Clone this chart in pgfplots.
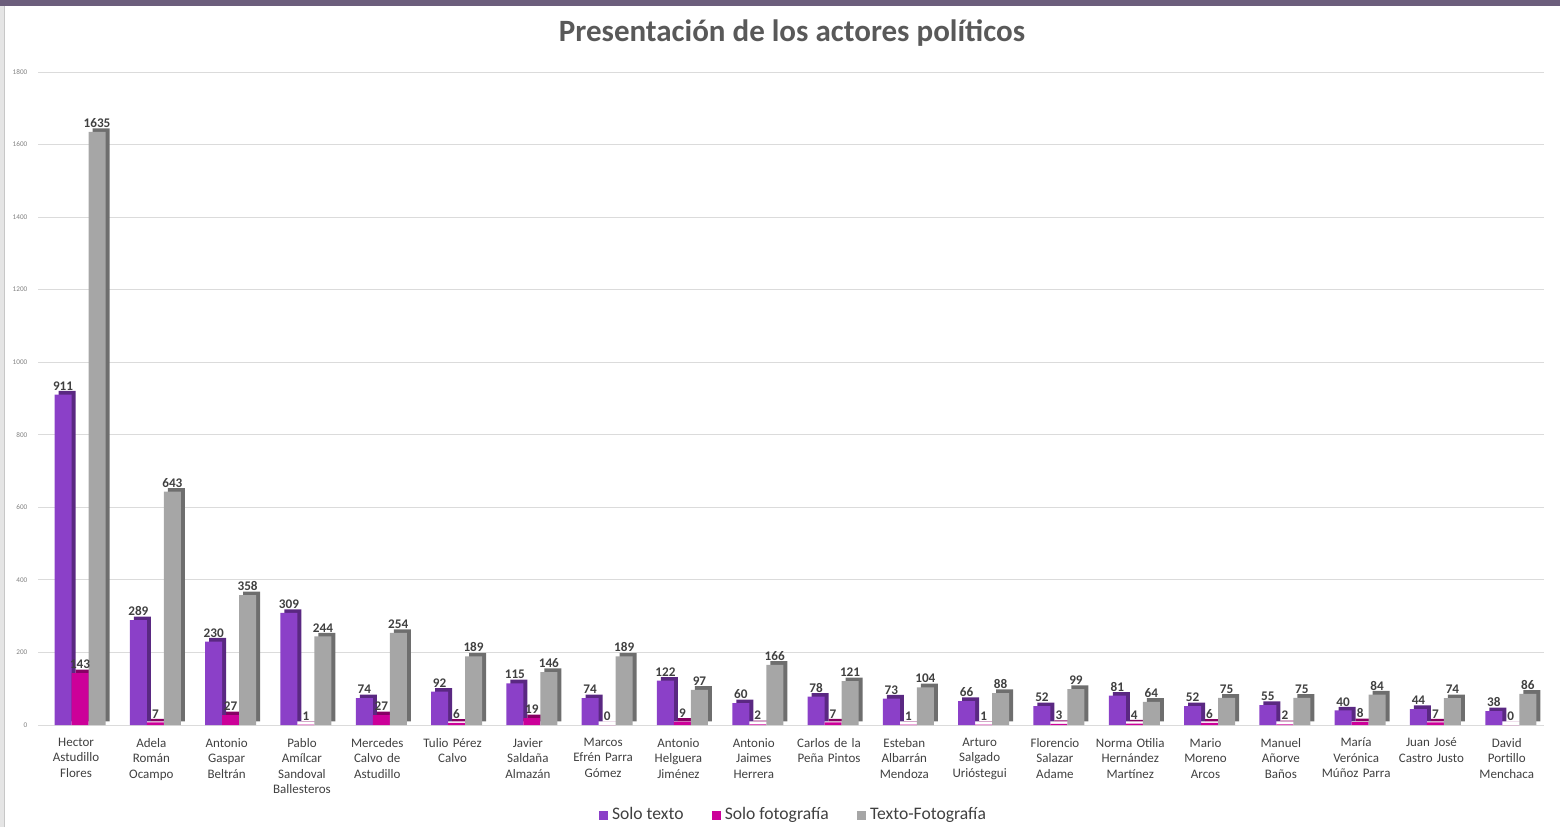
\documentclass[border=0pt]{standalone}
\usepackage{fontspec}
\setmainfont{Carlito}
\usepackage{pgfplots}
\usepackage{pgfplotstable}
\pgfplotsset{compat=1.18}
\definecolor{cA}{RGB}{139,64,200}
\definecolor{cAs}{RGB}{90,40,130}
\definecolor{cB}{RGB}{204,0,153}
\definecolor{cBs}{RGB}{135,0,100}
\definecolor{cC}{RGB}{166,166,166}
\definecolor{cCs}{RGB}{110,110,110}
\definecolor{txt}{RGB}{64,64,64}
\definecolor{ttl}{RGB}{89,89,89}
\definecolor{band}{RGB}{108,94,124}
\pgfplotstableread{
x a b c
0 911 143 1635
1 289 7 643
2 230 27 358
3 309 1 244
4 74 27 254
5 92 6 189
6 115 19 146
7 74 0 189
8 122 9 97
9 60 2 166
10 78 7 121
11 73 1 104
12 66 1 88
13 52 3 99
14 81 4 64
15 52 6 75
16 55 2 75
17 40 8 84
18 44 7 74
19 38 0 86
}\data
\begin{document}
\begin{tikzpicture}
\fill[black!10] (-19.2pt,-51pt) rectangle (-16.7pt,359.5pt);
\draw[black!22, line width=0.5pt] (-16.7pt,-51pt) -- (-16.7pt,359.5pt);
\fill[band] (-19.2pt,359.3pt) rectangle (760.8pt,362.5pt);
\begin{axis}[
  at={(0pt,0pt)}, anchor=south west,
  scale only axis, width=753pt, height=326.5pt,
  xmin=-0.5, xmax=19.5, ymin=0, ymax=1800,
  ytick={0,200,...,1800},
  xtick={0,...,19},
  xticklabels={{Hector\\Astudillo\\Flores},{Adela\\Román\\Ocampo},{Antonio\\Gaspar\\Beltrán},{Pablo\\Amílcar\\Sandoval\\Ballesteros},{Mercedes\\Calvo de\\Astudillo},{Tulio Pérez\\Calvo},{Javier\\Saldaña\\Almazán},{Marcos\\Efrén Parra\\Gómez},{Antonio\\Helguera\\Jiménez},{Antonio\\Jaimes\\Herrera},{Carlos de la\\Peña Pintos},{Esteban\\Albarrán\\Mendoza},{Arturo\\Salgado\\Urióstegui},{Florencio\\Salazar\\Adame},{Norma Otilia\\Hernández\\Martínez},{Mario\\Moreno\\Arcos},{Manuel\\Añorve\\Baños},{María\\Verónica\\Múñoz Parra},{Juan José\\Castro Justo},{David\\Portillo\\Menchaca}},
  /pgf/number format/.cd, 1000 sep={}, assume math mode=true, /pgfplots/.cd,
  axis line style={draw=none},
  major tick length=0pt,
  ymajorgrids, grid style={draw=black!14, line width=0.5pt},
  yticklabel style={font=\fontsize{3.6}{4}\selectfont, text=black!50, xshift=-2pt},
  xticklabel style={font=\fontsize{6.5}{7.75}\selectfont, text=txt, align=center, text width=40pt, anchor=north, yshift=-3pt},
  bar width=8.5pt,
  nodes near coords style={font=\bfseries\fontsize{6.6}{7}\selectfont, text=txt, inner sep=1pt, yshift=1pt, /pgf/number format/assume math mode=true},
  legend style={at={(0.502,-0.138)}, anchor=center, legend columns=-1, draw=none, fill=none,
    font=\fontsize{8.8}{10}\selectfont, text=txt,
    /tikz/every even column/.append style={column sep=12pt}},
  legend image code/.code={\draw[#1,draw=none] (0pt,-2.3pt) rectangle (4.6pt,2.3pt);},
]
% Solo texto
\addplot[ybar, bar shift=-6.5pt, fill=cAs, draw=none, xshift=2pt, yshift=1.8pt, forget plot] table[x=x,y=a]{\data};
\addplot[ybar, bar shift=-6.5pt, fill=cA, draw=none, nodes near coords, every node near coord/.append style={xshift=-6.5pt}] table[x=x,y=a]{\data};
% Solo fotografia
\addplot[ybar, bar shift=2pt, fill=cBs, draw=none, xshift=2pt, yshift=1.8pt, forget plot] table[x=x,y=b]{\data};
\addplot[ybar, bar shift=2pt, fill=cB, draw=none, nodes near coords, every node near coord/.append style={xshift=2pt}] table[x=x,y=b]{\data};
% Texto-Fotografia
\addplot[ybar, bar shift=10.5pt, fill=cCs, draw=none, xshift=2pt, yshift=1.8pt, forget plot] table[x=x,y=c]{\data};
\addplot[ybar, bar shift=10.5pt, fill=cC, draw=none, nodes near coords, every node near coord/.append style={xshift=10.5pt}] table[x=x,y=c]{\data};
\legend{Solo texto, Solo fotografía, Texto-Fotografía}
\end{axis}
\node[font=\bfseries\fontsize{15.5}{17}\selectfont, text=ttl] at (376.8pt,346pt) {Presentación de los actores políticos};
\pgfresetboundingbox
\useasboundingbox (-19.2pt,-51pt) rectangle (760.8pt,362.5pt);
\end{tikzpicture}
\end{document}
